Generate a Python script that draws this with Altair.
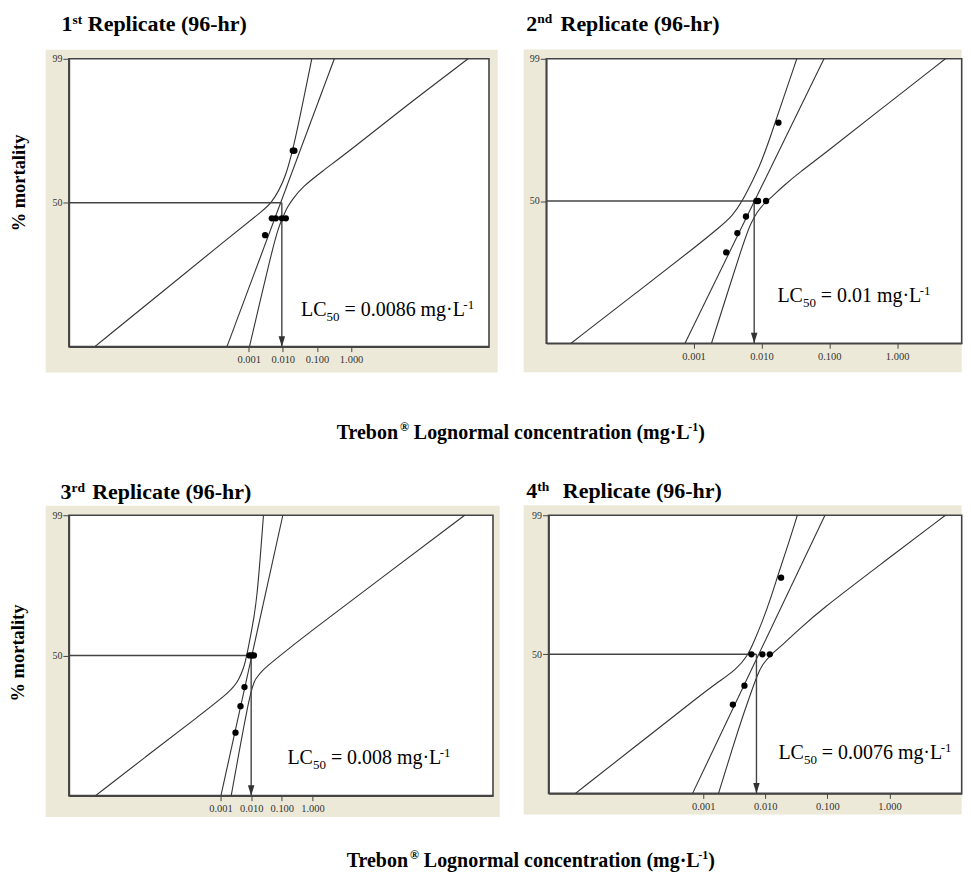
import altair as alt
import pandas as pd
from statistics import NormalDist

_nd = NormalDist()


def probit(pct):
    return _nd.inv_cdf(pct / 100.0)


# ---------------- values ----------------
TITLE_NUM = ["1", "2", "3", "4"]
TITLE_SUP = ["st", "nd", "rd", "th"]
TITLE_MAIN = "Replicate (96-hr)"
LC50_LABEL = ["0.0086", "0.01", "0.008", "0.0076"]
Y_TITLE = "% mortality"
X_TITLE = ["Trebon", "®", "Lognormal concentration (mg·L", "-1", ")"]

X_TICKS = [0.001, 0.01, 0.1, 1.0]
Y_TICKS = [50, 99]
Y_RANGE = [1, 99]

# x (concentration, mg/L) range of each panel's box
X_DOMAIN = [
    [5.38e-9, 1.099e4],
    [6.75e-6, 8.94],
    [1.12e-8, 7.82e5],
    [3.22e-6, 14.59],
]

LC50_ARROW = [0.00935, 0.00782, 0.0100, 0.0072]

# fitted probit line: concentration at 1 % and 99 %
FIT_PCT = [1, 99]
FIT_CONC = [
    [2.31e-4, 0.323],
    [7.48e-4, 0.0836],
    [1.03e-3, 0.1079],
    [6.73e-4, 0.0914],
]

# lower (left) confidence band
LOWER_PCT = [
    [1, 7.1, 27.1, 46.5, 50, 57.4, 66.5, 80.6, 93, 99],
    [1, 6.5, 24.1, 33.3, 40.4, 50.1, 62.9, 70.8, 83.7, 94.9, 99],
    [1, 4.6, 14.7, 28.1, 34, 41.2, 50, 67, 81.1, 99],
    [1, 6.5, 24.2, 32.6, 39.9, 48.7, 58.6, 70.9, 82.6, 91.7, 97, 99],
]
LOWER_CONC = [
    [3.10e-8, 2.58e-6, 2.06e-4, 3.25e-3, 4.55e-3, 7.54e-3, 0.01208, 0.0200, 0.0343, 0.0705],
    [1.57e-5, 1.384e-4, 1.213e-3, 2.39e-3, 3.75e-3, 5.26e-3, 7.38e-3, 9.25e-3, 0.01297, 0.0204, 0.0332],
    [8.3e-8, 3.525e-6, 1.52e-4, 2.35e-3, 3.85e-3, 5.61e-3, 7.24e-3, 0.01054, 0.01535, 0.0252],
    [8.75e-6, 8.69e-5, 8.63e-4, 1.807e-3, 3.36e-3, 5.15e-3, 6.61e-3, 8.97e-3, 0.01225, 0.01667, 0.02415, 0.0328],
]

# upper (right) confidence band
UPPER_PCT = [
    [1, 21.7, 35.2, 41.4, 46.7, 53.1, 60.5, 68.5, 81.2, 93.7, 99],
    [1, 27.9, 36.1, 43.0, 48.5, 53.4, 59.8, 68.9, 76.1, 93.1, 99],
    [1, 31, 34.7, 40.2, 47.8, 63, 90.8, 99],
    [1, 13.2, 23.3, 36.7, 43.2, 49.8, 56.6, 66.2, 76.4, 93.1, 99],
]
UPPER_CONC = [
    [1.055e-3, 4.76e-3, 7.64e-3, 0.01042, 0.0131, 0.0204, 0.040, 0.1232, 1.16, 33.6, 2673],
    [1.84e-3, 5.76e-3, 7.06e-3, 8.65e-3, 0.01096, 0.01486, 0.02106, 0.03901, 0.0713, 0.5455, 5.15],
    [2.23e-3, 0.0100, 0.01404, 0.02234, 0.0652, 0.574, 231.7, 93300],
    [1.762e-3, 4.04e-3, 5.5e-3, 7.46e-3, 8.97e-3, 0.01225, 0.01932, 0.03494, 0.0733, 0.6754, 7.98],
]

# observed points
PT_CONC = [
    [0.00303, 0.00476, 0.00624, 0.00935, 0.01225, 0.0196, 0.0218],
    [0.00303, 0.00442, 0.00592, 0.00844, 0.00893, 0.01172, 0.0178],
    [0.00308, 0.00448, 0.00605, 0.0088, 0.0105, 0.0123],
    [0.0030, 0.00461, 0.00597, 0.00897, 0.0118, 0.01795],
]
PT_PCT = [
    [30, 40, 40, 40, 40, 80, 80],
    [20, 30, 40, 50, 50, 50, 90],
    [10, 20, 30, 50, 50, 50],
    [20, 30, 50, 50, 50, 90],
]

# ---------------- layout / style ----------------
FONT = "Liberation Serif"
LINE = "#333333"
BOX = "#444444"
BEIGE = "#ECE9D8"

PW = [421, 416.3, 425, 414]
PH = [288.4, 285, 281, 278.7]
BG = [[-23.3, 8.7, -9, 26], [-22.7, 0, -9.4, 29], [-23.3, 6.7, -9.4, 21.3], [-25, 0, -10, 21.3]]
TITLE_POS = [(-7.3, -27.8, 26.3), (-20, -28.2, 34.3), (-8.3, -16.2, 31.7), (-22.3, -16.8, 36.6)]
LC_POS = [(232.7, 257.7), (231.6, 244), (219, 249), (230.3, 244)]
YT_POS = {0: (-49.5, 124.4), 2: (-50.8, 138.1)}
XT_POS = {0: (268.4, 380.7), 2: (278.4, 352.3)}

BOLD_W = {' ': 250, '%': 1000, '(': 333, ')': 333, '-': 333, '.': 250, '·': 250, '®': 747,
          'L': 667, 'R': 722, 'T': 667, 'a': 500, 'b': 556, 'c': 444, 'd': 556, 'e': 444,
          'g': 500, 'h': 556, 'i': 278, 'l': 278, 'm': 833, 'n': 556, 'o': 500, 'p': 556,
          'r': 444, 's': 389, 't': 333, 'y': 500}
REG_W = {' ': 250, '(': 333, ')': 333, '-': 333, '.': 250, '·': 250, '=': 564,
         'C': 667, 'L': 611, 'g': 500, 'm': 778}


def tw(text, size, bold):
    table = BOLD_W if bold else REG_W
    return sum(table.get(c, 500) for c in text) * size / 1000.0


ONE = pd.DataFrame({"k": [0]})


def txt(text, x, y, size, bold=False, **kw):
    props = dict(text=text, font=FONT, fontSize=size,
                 fontWeight="bold" if bold else "normal",
                 align="left", baseline="alphabetic", color="black")
    props.update(kw)
    return alt.Chart(ONE).mark_text(**props).encode(x=alt.value(x), y=alt.value(y))


def anchor(x, y):
    # invisible 1px box that fixes the extent of the drawing
    return alt.Chart(ONE).mark_rect(opacity=0).encode(
        x=alt.value(x), x2=alt.value(x + 1), y=alt.value(y), y2=alt.value(y + 1))


ARROW_PATH = "M-0.62,-1 L0.62,-1 L0,1 Z"


def panel(i):
    w, h = PW[i], PH[i]
    xsc = alt.Scale(type="log", domain=X_DOMAIN[i], nice=False)
    ysc = alt.Scale(domain=[probit(Y_RANGE[0]), probit(Y_RANGE[1])], nice=False, zero=False)
    xax = alt.Axis(values=X_TICKS, format=".3f", title=None, grid=False, labelFont=FONT,
                   labelFontSize=10.5, labelColor="#333333", labelPadding=3, labelFlush=False,
                   labelOverlap=False, tickSize=5, tickColor=BOX, tickWidth=1,
                   domainColor=BOX, domainWidth=1.6, zindex=1)
    yvals = [probit(v) for v in Y_TICKS]
    yax = alt.Axis(values=yvals,
                   labelExpr=f"datum.value > {yvals[0] + 0.5} ? '{Y_TICKS[1]}' : '{Y_TICKS[0]}'",
                   title=None, grid=False, labelFont=FONT, labelFontSize=10,
                   labelColor="#333333", labelPadding=1, tickSize=6, tickColor=BOX,
                   tickWidth=1, domainColor=BOX, domainWidth=1.6, zindex=1)

    def X(f):
        return alt.X(f, type="quantitative", scale=xsc, axis=xax)

    def Y(f):
        return alt.Y(f, type="quantitative", scale=ysc, axis=yax)

    rows = []
    for name, pcts, concs in [("lower", LOWER_PCT[i], LOWER_CONC[i]),
                              ("upper", UPPER_PCT[i], UPPER_CONC[i]),
                              ("fit", FIT_PCT, FIT_CONC[i])]:
        for k, (p, c) in enumerate(zip(pcts, concs)):
            rows.append({"series": name, "ord": k, "conc": c, "z": probit(p)})
    curves = pd.DataFrame(rows)
    pts = pd.DataFrame({"conc": PT_CONC[i], "z": [probit(p) for p in PT_PCT[i]]})
    r50 = pd.DataFrame({"x0": [X_DOMAIN[i][0]], "x1": [LC50_ARROW[i]], "z": [probit(50)]})
    arr = pd.DataFrame({"x": [LC50_ARROW[i]], "z0": [probit(50)], "z1": [probit(Y_RANGE[0])]})

    bg = BG[i]
    layers = [
        alt.Chart(ONE).mark_rect(color=BEIGE).encode(
            x=alt.value(bg[0]), x2=alt.value(w + bg[1]), y=alt.value(bg[2]), y2=alt.value(h + bg[3])),
        alt.Chart(ONE).mark_rect(fill="white", stroke=BOX, strokeWidth=1.6).encode(
            x=alt.value(0), x2=alt.value(w), y=alt.value(0), y2=alt.value(h)),
        alt.Chart(curves).mark_line(interpolate="basis", color=LINE, strokeWidth=1.1).encode(
            x=X("conc"), y=Y("z"), detail="series:N", order="ord:Q"),
        alt.Chart(r50).mark_rule(color=BOX, strokeWidth=1.4).encode(
            x=X("x0"), x2=alt.X2("x1"), y=Y("z")),
        alt.Chart(arr).mark_rule(color=BOX, strokeWidth=1.4).encode(
            x=X("x"), y=Y("z0"), y2=alt.Y2("z1")),
        alt.Chart(arr).mark_point(shape=ARROW_PATH, filled=True, size=110, color=LINE,
                                  opacity=1, yOffset=-5.2).encode(x=X("x"), y=Y("z1")),
        alt.Chart(pts).mark_circle(size=40, color="black", opacity=1).encode(x=X("conc"), y=Y("z")),
    ]

    # panel title: number, superscript ordinal, main text
    tx, ty, toff = TITLE_POS[i]
    layers.append(txt(TITLE_NUM[i], tx, ty, 22, bold=True))
    layers.append(txt(TITLE_SUP[i], tx + tw(TITLE_NUM[i], 22, True), ty - 7.5, 13.5, bold=True))
    layers.append(txt(TITLE_MAIN, tx + toff, ty, 22, bold=True))

    # LC50 annotation
    lx, ly = LC_POS[i]
    xcur = lx
    layers.append(txt("LC", xcur, ly, 20))
    xcur += tw("LC", 20, False)
    layers.append(txt("50", xcur, ly + 5, 13))
    xcur += tw("50", 13, False) + tw(" ", 20, False)
    body = f"= {LC50_LABEL[i]} mg·L"
    layers.append(txt(body, xcur, ly, 20))
    xcur += tw(body, 20, False)
    layers.append(txt("-1", xcur, ly - 7, 13))

    if i in YT_POS:
        yx, yy = YT_POS[i]
        layers.append(alt.Chart(ONE).mark_text(
            text=Y_TITLE, font=FONT, fontSize=18.5, fontWeight="bold", angle=270,
            align="center", baseline="middle", color="black").encode(
            x=alt.value(yx), y=alt.value(yy)))
    if i in XT_POS:
        xx, xy = XT_POS[i]
        xcur = xx
        layers.append(txt(X_TITLE[0], xcur, xy, 20, bold=True))
        xcur += tw(X_TITLE[0], 20, True)
        layers.append(txt(X_TITLE[1], xcur, xy - 8, 12, bold=True))
        xcur += tw(X_TITLE[1], 12, True) + tw(" ", 20, True)
        layers.append(txt(X_TITLE[2], xcur, xy, 20, bold=True))
        xcur += tw(X_TITLE[2], 20, True)
        layers.append(txt(X_TITLE[3], xcur, xy - 8, 12, bold=True))
        xcur += tw(X_TITLE[3], 12, True)
        layers.append(txt(X_TITLE[4], xcur, xy, 20, bold=True))
    if i == 0:
        layers.append(anchor(-60.3, -49.3))   # top-left corner of the drawing
        layers.append(anchor(0, 389))         # bottom extent of the top row
    if i == 2:
        layers.append(anchor(0, -41))         # top extent of the bottom row

    return alt.layer(*layers).properties(width=w, height=h)


top = alt.hconcat(panel(0), panel(1), spacing=57.4, bounds="flush")
bottom = alt.hconcat(panel(2), panel(3), spacing=55.7, bounds="flush")
chart = alt.vconcat(top, bottom, spacing=24.4).properties(
    padding=0, background="white"
).configure_view(stroke="transparent")

chart.save("out.html", embed_options={"renderer": "svg", "actions": False})
